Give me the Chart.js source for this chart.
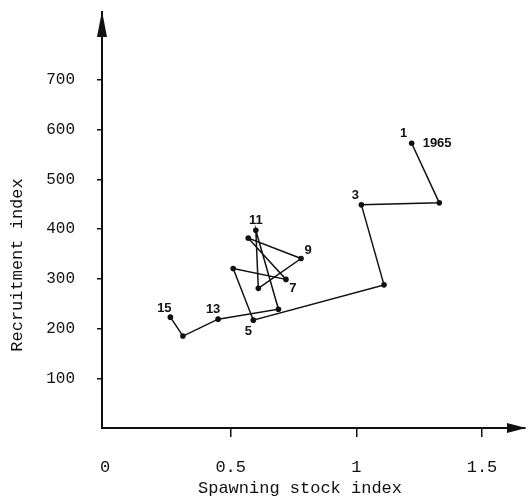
<!DOCTYPE html>
<html>
<head>
<meta charset="utf-8">
<script src="https://cdn.jsdelivr.net/npm/chart.js@4.4.1/dist/chart.umd.min.js"></script>
<style>
  html, body { margin: 0; padding: 0; background: #fff; }
  #wrap { width: 529px; height: 503px; }
</style>
</head>
<body>
<div id="wrap"><canvas id="chart" width="529" height="503"></canvas></div>
<script>
'use strict';

// Valores (anos 1965..1979, em ordem).
const YEAR_NO = [1, 2, 3, 4, 5, 6, 7, 8, 9, 10, 11, 12, 13, 14, 15];
const SPAWNING_STOCK = [1.22, 1.33, 1.02, 1.11, 0.59, 0.51, 0.72, 0.57, 0.78, 0.61, 0.60, 0.69, 0.45, 0.31, 0.26];
const RECRUITMENT = [573, 453, 449, 288, 217, 321, 299, 382, 341, 281, 398, 239, 219, 185, 223];
const POINT_LABELS = ['1', '', '3', '', '5', '', '7', '', '9', '', '11', '', '13', '', '15'];
const FIRST_YEAR = '1965';

const X_TICKS = [0, 0.5, 1, 1.5];
const Y_TICKS = [100, 200, 300, 400, 500, 600, 700];

const INK = '#111';
const MONO = '"Liberation Mono", "DejaVu Sans Mono", monospace';

// Deslocamento (px) de cada rotulo em relacao ao seu ponto.
const LABEL_OFFSETS = {
  1: [-8, -10], 3: [-6, -9], 5: [-5, 11], 7: [7, 9], 9: [7, -8],
  11: [0, -10], 13: [-5, -10], 15: [-6, -9],
};

const points = YEAR_NO.map((n, i) => ({ x: SPAWNING_STOCK[i], y: RECRUITMENT[i] }));

// --- Plugins --------------------------------------------------------------

const extras = {
  id: 'extras',
  afterDraw(chart) {
    const { ctx, chartArea: a } = chart;
    ctx.save();
    ctx.fillStyle = INK;

    // setas dos eixos
    ctx.beginPath();
    ctx.moveTo(a.left, a.top - 1);
    ctx.lineTo(a.left - 5, a.top + 25);
    ctx.lineTo(a.left + 5, a.top + 25);
    ctx.closePath();
    ctx.fill();
    ctx.beginPath();
    ctx.moveTo(a.right + 1, a.bottom);
    ctx.lineTo(a.right - 18, a.bottom - 5);
    ctx.lineTo(a.right - 18, a.bottom + 5);
    ctx.closePath();
    ctx.fill();

    // rotulos dos pontos
    const meta = chart.getDatasetMeta(0);
    ctx.font = 'bold 13px "Liberation Sans", Arial, sans-serif';
    ctx.textBaseline = 'middle';
    meta.data.forEach((pt, i) => {
      const txt = POINT_LABELS[i];
      if (!txt) return;
      const [dx, dy] = LABEL_OFFSETS[YEAR_NO[i]] || [0, -10];
      ctx.textAlign = 'center';
      ctx.fillText(txt, pt.x + dx, pt.y + dy);
      if (i === 0) {
        ctx.textAlign = 'left';
        ctx.fillText(FIRST_YEAR, pt.x + 11, pt.y);
      }
    });

    // titulos dos eixos
    ctx.font = '17px ' + MONO;
    ctx.textAlign = 'center';
    ctx.fillText('Spawning stock index', 300, 488);
    ctx.translate(17, 265);
    ctx.rotate(-Math.PI / 2);
    ctx.fillText('Recruitment index', 0, 0);
    ctx.restore();
  },
};

// --- Chart ----------------------------------------------------------------

new Chart(document.getElementById('chart'), {
  type: 'scatter',
  data: {
    datasets: [{
      data: points,
      showLine: true,
      borderColor: INK,
      borderWidth: 1.5,
      backgroundColor: INK,
      pointRadius: 2.8,
      pointBorderWidth: 0,
      tension: 0,
    }],
  },
  options: {
    responsive: false,
    animation: false,
    devicePixelRatio: 1,
    layout: { padding: { top: 12, right: 0, left: 0, bottom: 0 } },
    plugins: { legend: { display: false }, tooltip: { enabled: false } },
    scales: {
      x: {
        type: 'linear',
        min: -0.012,
        max: 1.671,
        afterBuildTicks: (s) => { s.ticks = X_TICKS.map((v) => ({ value: v })); },
        afterFit: (s) => { s.height = 75; s.paddingLeft = 0; s.paddingRight = 0; },
        ticks: {
          color: INK,
          font: { family: MONO, size: 17 },
          padding: 20,
          maxRotation: 0,
          callback: (v) => String(v),
        },
        grid: {
          drawOnChartArea: false,
          drawTicks: true,
          tickLength: 9,
          lineWidth: 1.5,
          color: (c) => (c.tick && c.tick.value === 0 ? 'rgba(0,0,0,0)' : INK),
        },
        border: { display: true, color: INK, width: 2 },
      },
      y: {
        type: 'linear',
        min: 0,
        max: 837,
        afterBuildTicks: (s) => { s.ticks = Y_TICKS.map((v) => ({ value: v })); },
        afterFit: (s) => { s.width = 102; s.paddingTop = 0; s.paddingBottom = 0; },
        ticks: {
          color: INK,
          font: { family: MONO, size: 16 },
          padding: 22,
          callback: (v) => String(v),
        },
        grid: {
          drawOnChartArea: false,
          drawTicks: true,
          tickLength: 5,
          lineWidth: 1.5,
          color: INK,
        },
        border: { display: true, color: INK, width: 2 },
      },
    },
  },
  plugins: [extras],
});
</script>
</body>
</html>
